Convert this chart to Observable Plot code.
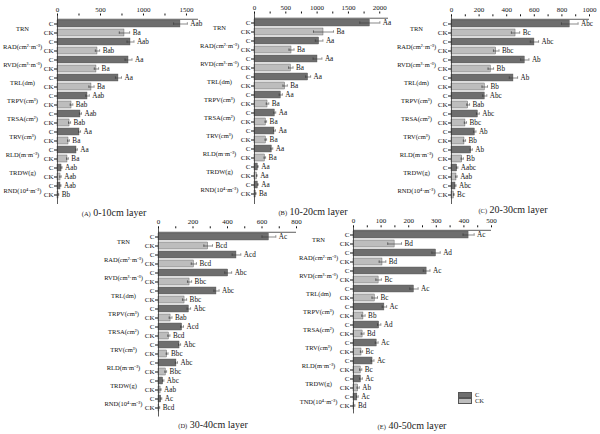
<!DOCTYPE html>
<html>
<head>
<meta charset="utf-8">
<script src="https://cdn.jsdelivr.net/npm/d3@7"></script>
<script src="https://cdn.jsdelivr.net/npm/@observablehq/plot@0.6"></script>
<style>
  body { margin: 0; background: #fff; }
  #root { position: relative; width: 600px; height: 434px; background: #fff; font-family: "Liberation Serif", serif; color: #222; overflow: hidden; }
  .pnl { position: absolute; }
  .pnl svg { overflow: visible; }
  .cap { position: absolute; transform: translate(-50%, -50%); white-space: nowrap; font-size: 10px; }
  .cap small { font-size: 6.5px; }
  .leg { position: absolute; font-size: 6.5px; }
  .sw { position: absolute; width: 14px; height: 6px; box-sizing: border-box; }
</style>
</head>
<body>
<div id="root"></div>
<script>
// ---------- data ----------
const metrics = ["TRN", "RAD(cm²·m⁻³)", "RVD(cm³·m⁻³)", "TRL(dm)", "TRPV(cm³)", "TRSA(cm²)", "TRV(cm³)", "RLD(m·m⁻³)", "TRDW(g)", "RND(10⁴·m⁻³)"];
const metricsE = ["TRN", "RAD(cm²·m⁻³)", "RVD(cm³·m⁻³)", "TRL(dm)", "TRPV(cm³)", "TRSA(cm²)", "TRV(cm³)", "RLD(m·m⁻³)", "TRDW(g)", "TND(10⁴·m⁻³)"];
const treatments = ["C", "CK"];

// (A) 0-10cm
const A_C = [1430, 849, 826, 709, 349, 267, 256, 221, 47, 35];
const A_CK = [779, 465, 453, 395, 163, 140, 128, 116, 35, 12];
const A_Cerr = [80, 40, 40, 35, 20, 12, 12, 10, 6, 5];
const A_CKerr = [60, 25, 25, 30, 15, 12, 10, 10, 8, 3];
const A_Csig = ["Aab", "Aab", "Aa", "Aa", "Aab", "Aab", "Aa", "Aa", "Aab", "Aab"];
const A_CKsig = ["Ba", "Bab", "Ba", "Ba", "Bab", "Bab", "Ba", "Ba", "Aab", "Bb"];
const A_ticks = [0, 250, 500, 750, 1000, 1250, 1500];

// (B) 10-20cm
const B_C = [1842, 1032, 1006, 856, 420, 324, 319, 276, 53, 53];
const B_CK = [1102, 591, 580, 489, 208, 181, 181, 165, 37, 21];
const B_Cerr = [160, 60, 70, 40, 25, 15, 15, 15, 6, 6];
const B_CKerr = [160, 40, 35, 35, 20, 12, 12, 12, 5, 3];
const B_Csig = ["Aa", "Aa", "Aa", "Aa", "Aa", "Aa", "Aa", "Aa", "Aa", "Aa"];
const B_CKsig = ["Ba", "Ba", "Ba", "Ba", "Ba", "Ba", "Ba", "Ba", "Aa", "Ba"];
const B_ticks = [0, 250, 500, 750, 1000, 1250, 1500, 1750, 2000];

// (C) 20-30cm
const C_C = [857, 601, 531, 449, 241, 191, 169, 143, 41, 29];
const C_CK = [464, 324, 285, 241, 121, 101, 94, 78, 36, 17];
const C_Cerr = [60, 30, 30, 30, 15, 10, 8, 8, 5, 4];
const C_CKerr = [30, 20, 20, 20, 10, 8, 8, 8, 5, 2];
const C_Csig = ["Abc", "Abc", "Ab", "Ab", "Abc", "Abc", "Ab", "Ab", "Aabc", "Abc"];
const C_CKsig = ["Bc", "Bbc", "Bb", "Bb", "Bab", "Bbc", "Bb", "Bb", "Aab", "Bc"];
const C_ticks = [0, 100, 200, 300, 400, 500, 600, 700, 800, 900, 1000];

// (D) 30-40cm
const D_C = [640, 452, 404, 336, 176, 137, 122, 104, 27, 16];
const D_CK = [288, 205, 180, 151, 70, 60, 50, 42, 12, 5];
const D_Cerr = [40, 25, 20, 15, 10, 8, 6, 6, 4, 3];
const D_CKerr = [25, 15, 12, 12, 8, 6, 5, 5, 3, 2];
const D_Csig = ["Ac", "Acd", "Abc", "Abc", "Abc", "Acd", "Abc", "Abc", "Abc", "Ac"];
const D_CKsig = ["Bcd", "Bcd", "Bbc", "Bbc", "Bab", "Bcd", "Bbc", "Bbc", "Aab", "Bcd"];
const D_ticks = [0, 100, 200, 300, 400, 500, 600, 700, 800];

// (E) 40-50cm
const E_C = [417, 299, 265, 219, 112, 93, 84, 69, 27, 14];
const E_CK = [149, 105, 91, 77, 36, 33, 29, 26, 17, 3];
const E_Cerr = [20, 15, 12, 15, 8, 6, 5, 5, 5, 3];
const E_CKerr = [25, 12, 10, 10, 6, 5, 4, 4, 4, 2];
const E_Csig = ["Ac", "Ad", "Ac", "Ac", "Ac", "Ad", "Ac", "Ac", "Ac", "Ac"];
const E_CKsig = ["Bd", "Bd", "Bc", "Bc", "Bb", "Bd", "Bc", "Bc", "Ab", "Bd"];
const E_ticks = [0, 50, 100, 150, 200, 250, 300, 350, 400, 450, 500];

const captions = [["(A)", "0-10cm layer"], ["(B)", "10-20cm layer"], ["(C)", "20-30cm layer"], ["(D)", "30-40cm layer"], ["(E)", "40-50cm layer"]];

const colC = "#6e6e6e", colCK = "#bdbdbd";

// ---------- drawing ----------
const root = document.getElementById("root");

function panel(cfg) {
  const rows = [];
  cfg.metrics.forEach((m, i) => {
    rows.push({key: m + "|C", t: "C", v: cfg.C[i], e: cfg.Cerr[i], sig: cfg.Csig[i]});
    rows.push({key: m + "|CK", t: "CK", v: cfg.CK[i], e: cfg.CKerr[i], sig: cfg.CKsig[i]});
  });
  const keys = rows.map(d => d.key);
  const inner = cfg.height - cfg.marginTop - cfg.marginBottom;
  const step = inner / keys.length;
  const bw = step * 0.82;
  const capInset = Math.max(0, bw / 2 - 1.6);
  const chart = Plot.plot({
    width: cfg.width,
    height: cfg.height,
    marginLeft: 57,
    marginRight: 2,
    marginTop: cfg.marginTop,
    marginBottom: cfg.marginBottom,
    x: {domain: [0, cfg.xMax]},
    y: {domain: keys, paddingInner: 0.18, paddingOuter: 0.09},
    color: {domain: treatments, range: [colC, colCK]},
    style: {fontFamily: "Liberation Serif, serif", fontSize: "7px", color: "#111", background: "transparent", overflow: "visible"},
    marks: [
      Plot.barX(rows, {x: "v", y: "key", fill: "t", stroke: "#505050", strokeWidth: 0.4}),
      Plot.ruleY(rows, {y: "key", x1: d => d.v - d.e, x2: d => d.v + d.e, stroke: "#3a3a3a", strokeWidth: 0.6}),
      Plot.tickX(rows, {x: d => d.v - d.e, y: "key", insetTop: capInset, insetBottom: capInset, stroke: "#3a3a3a", strokeWidth: 0.6}),
      Plot.tickX(rows, {x: d => d.v + d.e, y: "key", insetTop: capInset, insetBottom: capInset, stroke: "#3a3a3a", strokeWidth: 0.6}),
      Plot.text(rows, {x: d => d.v + d.e, y: "key", text: "sig", dx: 3, textAnchor: "start", fontSize: 7.2, fill: "#111"}),
      Plot.ruleX([0], {stroke: "#333", strokeWidth: 0.8}),
      Plot.ruleY([keys[0]], {dy: -step / 2, stroke: "#333", strokeWidth: 0.8}),
      Plot.axisX({anchor: "top", ticks: cfg.ticks, tickFormat: d => (d % cfg.labelStep === 0 ? String(d) : ""), tickSize: 2, tickPadding: 1.5, label: null, fontSize: 7}),
      Plot.axisY({tickSize: 3, tickPadding: 1, tickFormat: k => k.split("|")[1], label: null, fontSize: 7}),
      Plot.text(cfg.metrics, {y: m => m + "|C", text: m => m, frameAnchor: "left", dx: -35, dy: step / 2, textAnchor: "middle", fontSize: 6.5, fill: "#111"})
    ]
  });
  const wrap = document.createElement("div");
  wrap.className = "pnl";
  wrap.style.left = cfg.left + "px";
  wrap.style.top = cfg.top + "px";
  wrap.appendChild(chart);
  root.appendChild(wrap);
}

panel({left: 0, top: 0, width: 200, height: 210, marginTop: 14.5, marginBottom: 6, xMax: 1640, ticks: A_ticks, labelStep: 500,
  metrics, C: A_C, CK: A_CK, Cerr: A_Cerr, CKerr: A_CKerr, Csig: A_Csig, CKsig: A_CKsig});
panel({left: 197, top: 0, width: 193, height: 210, marginTop: 12.5, marginBottom: 6, xMax: 2140, ticks: B_ticks, labelStep: 500,
  metrics, C: B_C, CK: B_CK, Cerr: B_Cerr, CKerr: B_CKerr, Csig: B_Csig, CKsig: B_CKsig});
panel({left: 394, top: 0, width: 197, height: 210, marginTop: 15.3, marginBottom: 6, xMax: 1000, ticks: C_ticks, labelStep: 200,
  metrics, C: C_C, CK: C_CK, Cerr: C_Cerr, CKerr: C_CKerr, Csig: C_Csig, CKsig: C_CKsig});
panel({left: 101, top: 212, width: 197, height: 206, marginTop: 15.3, marginBottom: 1.5, xMax: 800, ticks: D_ticks, labelStep: 200,
  metrics, C: D_C, CK: D_CK, Cerr: D_Cerr, CKerr: D_CKerr, Csig: D_Csig, CKsig: D_CKsig});
panel({left: 296, top: 212, width: 197, height: 206, marginTop: 14.3, marginBottom: 4.6, xMax: 500, ticks: E_ticks, labelStep: 100,
  metrics: metricsE, C: E_C, CK: E_CK, Cerr: E_Cerr, CKerr: E_CKerr, Csig: E_Csig, CKsig: E_CKsig});

// captions
const capPos = [[114, 212], [313, 211], [513, 209], [213, 424], [412, 425]];
captions.forEach((c, i) => {
  const d = document.createElement("div");
  d.className = "cap";
  d.style.left = capPos[i][0] + "px";
  d.style.top = capPos[i][1] + "px";
  d.innerHTML = "<small>" + c[0] + "</small> " + c[1];
  root.appendChild(d);
});

// legend
const legColors = [colC, colCK];
treatments.forEach((t, i) => {
  const sw = document.createElement("div");
  sw.className = "sw";
  sw.style.left = "458px";
  sw.style.top = (392 + i * 6) + "px";
  sw.style.background = legColors[i];
  sw.style.border = "0.5px solid #555";
  root.appendChild(sw);
  const lb = document.createElement("div");
  lb.className = "leg";
  lb.style.left = "475px";
  lb.style.top = (390.5 + i * 6) + "px";
  lb.textContent = t;
  root.appendChild(lb);
});
</script>
</body>
</html>
